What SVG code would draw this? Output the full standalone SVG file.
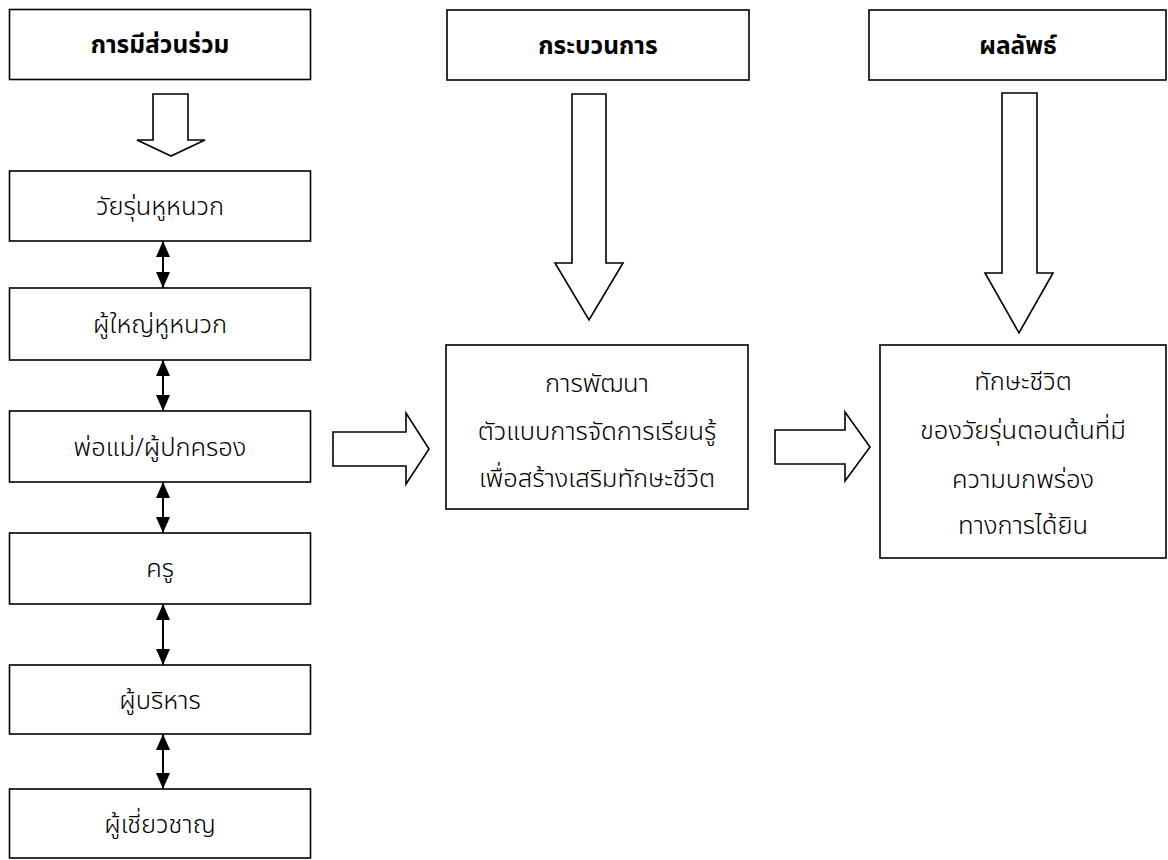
<svg xmlns="http://www.w3.org/2000/svg" width="1168" height="860" viewBox="0 0 1168 860">
  <defs>
    <style>
      .box { fill: #ffffff; stroke: #000000; stroke-width: 1.6; }
      .big { fill: #ffffff; stroke: #000000; stroke-width: 1.6; stroke-linejoin: miter; }
      .link { stroke: #000000; stroke-width: 2; fill: none; marker-start: url(#head); marker-end: url(#head); }
      text { font-family: "Noto Sans Thai", "Noto Sans", "DejaVu Sans", sans-serif; font-size: 25.5px; font-weight: 300; fill: #000000; text-anchor: middle; }
      .hd { font-weight: bold; font-size: 24.5px; }
    </style>
    <marker id="head" viewBox="0 0 16 14" refX="16" refY="7" markerWidth="16" markerHeight="14" markerUnits="userSpaceOnUse" orient="auto-start-reverse">
      <path d="M0,0 L16,7 L0,14 Z" fill="#000000"/>
    </marker>
  </defs>
  <rect width="1168" height="860" fill="#ffffff"/>

  <!-- column headers -->
  <g id="head-participation">
    <rect class="box" x="9.5" y="9.5" width="301" height="70"/>
    <text class="hd" x="160" y="53">การมีส่วนร่วม</text>
  </g>
  <g id="head-process">
    <rect class="box" x="447" y="10" width="302" height="70"/>
    <text class="hd" x="598" y="54">กระบวนการ</text>
  </g>
  <g id="head-outcome">
    <rect class="box" x="869" y="10" width="297" height="70"/>
    <text class="hd" x="1018" y="54">ผลลัพธ์</text>
  </g>

  <!-- stakeholder boxes -->
  <g id="deaf-youth">
    <rect class="box" x="9.5" y="171" width="301" height="70"/>
    <text x="160" y="215">วัยรุ่นหูหนวก</text>
  </g>
  <g id="deaf-adults">
    <rect class="box" x="9.5" y="288" width="301" height="72"/>
    <text x="160" y="333">ผู้ใหญ่หูหนวก</text>
  </g>
  <g id="parents">
    <rect class="box" x="9.5" y="411" width="301" height="71"/>
    <text x="160" y="456">พ่อแม่/ผู้ปกครอง</text>
  </g>
  <g id="teachers">
    <rect class="box" x="9.5" y="533" width="301" height="71"/>
    <text x="160" y="577">ครู</text>
  </g>
  <g id="administrators">
    <rect class="box" x="9.5" y="665" width="301" height="69"/>
    <text x="160" y="709">ผู้บริหาร</text>
  </g>
  <g id="experts">
    <rect class="box" x="9.5" y="789" width="301" height="69"/>
    <text x="160" y="833">ผู้เชี่ยวชาญ</text>
  </g>

  <!-- process and outcome boxes -->
  <g id="model-development">
    <rect class="box" x="446" y="345" width="302" height="164"/>
    <text x="597" y="392">การพัฒนา</text>
    <text x="597" y="440">ตัวแบบการจัดการเรียนรู้</text>
    <text x="597" y="487">เพื่อสร้างเสริมทักษะชีวิต</text>
  </g>
  <g id="life-skills">
    <rect class="box" x="880" y="345" width="286" height="213"/>
    <text x="1023" y="390">ทักษะชีวิต</text>
    <text x="1023" y="439">ของวัยรุ่นตอนต้นที่มี</text>
    <text x="1023" y="488">ความบกพร่อง</text>
    <text x="1023" y="534">ทางการได้ยิน</text>
  </g>

  <!-- connectors -->
  <g id="connectors">
    <!-- block arrows -->
    <path class="big" d="M153,94 L188,94 L188,140 L205,140 L171,156 L137,140 L153,140 Z"/>
    <path class="big" d="M572,94 L606,94 L606,263 L623,263 L589,320 L555,263 L572,263 Z"/>
    <path class="big" d="M1002,93 L1037,93 L1037,273 L1053,273 L1019,333 L985,273 L1002,273 Z"/>
    <path class="big" d="M333,432 L406,432 L406,413 L429,449 L406,484 L406,466 L333,466 Z"/>
    <path class="big" d="M775,430 L845,430 L845,412 L870,447 L845,481 L845,464 L775,464 Z"/>
    <!-- two-way links between stakeholder boxes -->
    <line class="link" x1="163" y1="241" x2="163" y2="288"/>
    <line class="link" x1="163" y1="360" x2="163" y2="411"/>
    <line class="link" x1="163" y1="482" x2="163" y2="533"/>
    <line class="link" x1="163" y1="604" x2="163" y2="665"/>
    <line class="link" x1="163" y1="734" x2="163" y2="789"/>
  </g>
</svg>
